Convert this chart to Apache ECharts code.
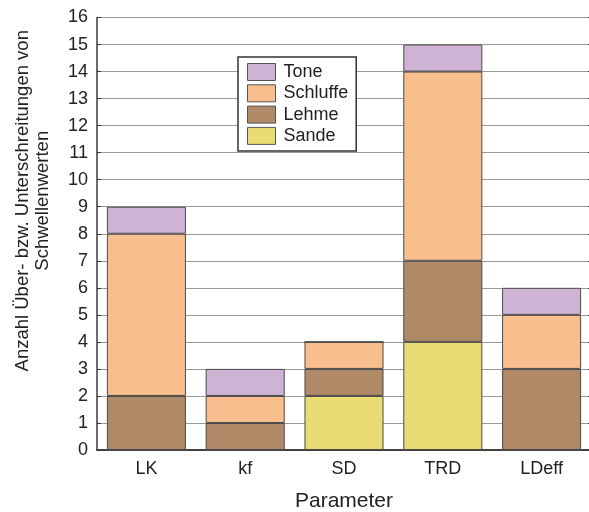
<!DOCTYPE html>
<html>
<head>
<meta charset="utf-8">
<script src="https://cdn.jsdelivr.net/npm/echarts@6/dist/echarts.min.js"></script>
<style>html,body{margin:0;padding:0;background:#fff}#c{width:589px;height:512px}</style>
</head>
<body>
<div id="c"></div>
<script>
const categories = ['LK', 'kf', 'SD', 'TRD', 'LDeff'];
const sande    = [0, 0, 2, 4, 0];
const lehme    = [2, 1, 1, 3, 3];
const schluffe = [6, 1, 1, 7, 2];
const tone     = [1, 1, 0, 1, 1];
const legendOrder = ['Tone', 'Schluffe', 'Lehme', 'Sande'];

const FONT = '"Liberation Sans", Arial, sans-serif';
const AX = '#3a3a3a';
const chart = echarts.init(document.getElementById('c'), null, {renderer: 'canvas'});

function barSeries(name, data, color) {
  return {
    name, type: 'bar', stack: 'total', data, barCategoryGap: '20%',
    itemStyle: {color, borderColor: '#4a4a4a', borderWidth: 1},
    emphasis: {disabled: true}
  };
}

chart.setOption({
  animation: false,
  textStyle: {fontFamily: FONT},
  grid: {left: 97, right: -2, top: 17.5, bottom: 62, containLabel: false, outerBoundsMode: 'none'},
  legend: {
    data: legendOrder, orient: 'vertical', left: 238, top: 57, icon: 'rect',
    padding: [6, 8, 6, 9], itemGap: 3.3, itemWidth: 28, itemHeight: 17,
    borderColor: '#333', borderWidth: 1.5, backgroundColor: '#fff',
    textStyle: {fontFamily: FONT, fontSize: 18, color: '#222', lineHeight: 17, padding: [0, 0, 0, 3]},
    itemStyle: {borderColor: '#555', borderWidth: 1}
  },
  xAxis: [{
    type: 'category', data: categories, position: 'bottom',
    name: 'Parameter', nameLocation: 'middle', nameGap: 41,
    nameTextStyle: {fontFamily: FONT, fontSize: 21, color: '#222'},
    axisLine: {lineStyle: {color: AX, width: 1.5}},
    axisTick: {inside: true, length: 4, alignWithLabel: true, lineStyle: {color: AX}},
    axisLabel: {fontFamily: FONT, fontSize: 18, color: '#222', margin: 10}
  }, {
    type: 'category', data: categories, position: 'top',
    axisLine: {lineStyle: {color: AX, width: 1.5}},
    axisTick: {inside: true, length: 4, alignWithLabel: true, lineStyle: {color: AX}},
    axisLabel: {show: false}
  }],
  yAxis: [{
    type: 'value', min: 0, max: 16, interval: 1, position: 'left',
    name: 'Anzahl Über- bzw. Unterschreitungen von\nSchwellenwerten',
    nameLocation: 'middle', nameGap: 44, nameRotate: 90,
    nameTextStyle: {fontFamily: FONT, fontSize: 18.5, color: '#222', lineHeight: 20, align: 'center', padding: [0, 0, 0, 66]},
    axisLine: {show: true, lineStyle: {color: AX, width: 1.5}},
    axisTick: {show: true, inside: true, length: 4, lineStyle: {color: AX}},
    axisLabel: {fontFamily: FONT, fontSize: 18, color: '#222', margin: 9},
    splitLine: {show: true, lineStyle: {color: '#9a9a9a', width: 1.2}}
  }, {
    type: 'value', min: 0, max: 16, interval: 1, position: 'right',
    axisLine: {show: false},
    axisTick: {show: true, inside: true, length: 3, lineStyle: {color: AX}},
    axisLabel: {show: false}, splitLine: {show: false}
  }],
  series: [
    barSeries('Sande', sande, '#e8dc72'),
    barSeries('Lehme', lehme, '#b08966'),
    barSeries('Schluffe', schluffe, '#f8be8d'),
    barSeries('Tone', tone, '#cfb3d4')
  ]
});
</script>
</body>
</html>
